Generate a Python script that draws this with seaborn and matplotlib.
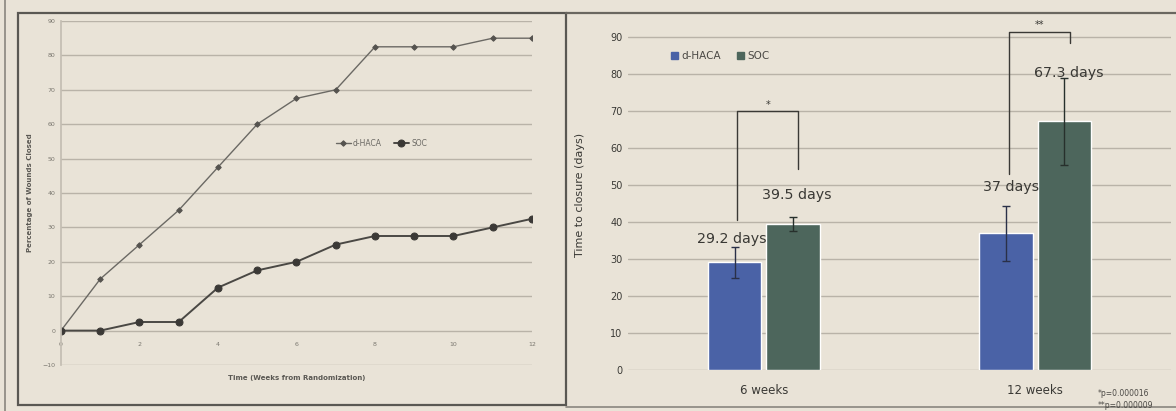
import numpy as np
import pandas as pd
import matplotlib
matplotlib.use("Agg")
import matplotlib.pyplot as plt
from matplotlib.lines import Line2D
from matplotlib.patches import Rectangle
import seaborn as sns

# ---- wound closure over time (left panel) ----
weeks = [0, 1, 2, 3, 4, 5, 6, 7, 8, 9, 10, 11, 12]
pct_dhaca = [0, 15, 25, 35, 47.5, 60, 67.5, 70, 82.5, 82.5, 82.5, 85, 85]
pct_soc = [0, 0, 2.5, 2.5, 12.5, 17.5, 20, 25, 27.5, 27.5, 27.5, 30, 32.5]
left_yticks = [-10, 0, 10, 20, 30, 40, 50, 60, 70, 80, 90]
left_xticks = [0, 2, 4, 6, 8, 10, 12]

# ---- time to closure (right panel) ----
timepoints = ["6 weeks", "12 weeks"]
groups = ["d-HACA", "SOC"]
days_dhaca = [29.2, 37.0]
days_soc = [39.5, 67.3]
sd_dhaca = [4.2, 7.4]
sd_soc = [2.0, 11.8]
value_labels_dhaca = ["29.2 days", "37 days"]
value_labels_soc = ["39.5 days", "67.3 days"]
right_yticks = [0, 10, 20, 30, 40, 50, 60, 70, 80, 90]
sig_marks = ["*", "**"]
footnotes = ["*p=0.000016", "**p=0.000009"]

BG = "#e9e3d7"
GRID = "#b9b3a8"
BLUE = "#4a62a6"
GREEN = "#4d665c"

sns.set_theme(style="white")
plt.rcParams["font.family"] = ["DejaVu Sans"]

fig = plt.figure(figsize=(11.76, 4.11), dpi=100)
fig.patch.set_facecolor(BG)

# panel frames
W, H = 1176, 411
def fx(px): return px / W
def fy(py): return 1 - py / H
fig.add_artist(Rectangle((fx(18), fy(405)), fx(566) - fx(18), fy(13) - fy(405),
                         transform=fig.transFigure, fill=False, ec="#5a5853", lw=1.6))
fig.add_artist(Line2D([fx(5), fx(5)], [fy(0), fy(411)], transform=fig.transFigure,
                      color="#8a867f", lw=1.2))
fig.add_artist(Line2D([fx(566), fx(1176)], [fy(13), fy(13)], transform=fig.transFigure,
                      color="#6a6760", lw=1.6))
fig.add_artist(Line2D([fx(566), fx(1176)], [fy(407), fy(407)], transform=fig.transFigure,
                      color="#8a867f", lw=1.2))

# ---------------- left panel: line chart ----------------
axL = fig.add_axes([fx(61), fy(365), fx(532) - fx(61), fy(21) - fy(365)])
axL.set_facecolor(BG)
dfL = pd.DataFrame({"week": weeks, "d-HACA": pct_dhaca, "SOC": pct_soc})
sns.lineplot(data=dfL, x="week", y="d-HACA", ax=axL, color="#6b6964", lw=1.0,
             marker="D", markersize=2.8, markeredgecolor="#55534f",
             markerfacecolor="#55534f", label="d-HACA")
sns.lineplot(data=dfL, x="week", y="SOC", ax=axL, color="#4a4844", lw=1.4,
             marker="o", markersize=5, markeredgecolor="#3b3936",
             markerfacecolor="#3b3936", label="SOC")
axL.set_xlim(0, 12)
axL.set_ylim(-10, 90)
axL.set_yticks(left_yticks)
axL.set_xticks(left_xticks)
axL.grid(axis="y", color=GRID, lw=1.0)
for s in ["top", "right"]:
    axL.spines[s].set_visible(False)
# horizontal axis crosses at zero
axL.spines["bottom"].set_position(("data", 0))
axL.spines["bottom"].set_visible(False)
axL.spines["left"].set_color("#c4beb3")
axL.tick_params(axis="both", labelsize=4.5, labelcolor="#7a776f", length=0)
axL.tick_params(axis="y", pad=4)
axL.tick_params(axis="x", pad=8)
axL.set_xlabel("Time (Weeks from Randomization)", fontsize=5, color="#5a5853",
               fontweight="bold")
axL.xaxis.set_label_coords(0.5, -0.03)
axL.set_ylabel("Percentage of Wounds Closed", fontsize=5, color="#5a5853",
               fontweight="bold")
axL.yaxis.set_label_coords(-0.059, 0.5)
axL.legend(loc="center", bbox_to_anchor=(0.68, 0.645), ncol=2, frameon=False,
           fontsize=5.5, labelcolor="#6b6964", handlelength=2.0, columnspacing=1.5,
           handletextpad=0.3)

# ---------------- right panel: bar chart ----------------
axR = fig.add_axes([fx(628), fy(370), fx(1171) - fx(628), fy(19) - fy(370)])
axR.set_facecolor(BG)
dfR = pd.DataFrame({
    "timepoint": timepoints * 2,
    "group": [groups[0]] * 2 + [groups[1]] * 2,
    "days": days_dhaca + days_soc,
})
sns.barplot(data=dfR, x="timepoint", y="days", hue="group", order=timepoints,
            hue_order=groups, palette=[BLUE, GREEN], width=0.43, gap=0.08,
            errorbar=None, ax=axR, saturation=1)
axR.set_xlim(-0.5, 1.5)
axR.set_ylim(0, 95)
axR.set_yticks(right_yticks)
axR.grid(axis="y", color=GRID, lw=1.0)
axR.set_axisbelow(True)
for s in ["top", "right", "left", "bottom"]:
    axR.spines[s].set_visible(False)
axR.tick_params(axis="y", labelsize=7, labelcolor="#3a3935", length=0, pad=4)
axR.tick_params(axis="x", labelsize=8.5, labelcolor="#3a3935", length=0, pad=10)
axR.set_xlabel("")
axR.set_ylabel("Time to closure (days)", fontsize=8, color="#3a3935")
axR.yaxis.set_label_coords(-0.08, 0.5)

bars_d = list(axR.containers[0])
bars_s = list(axR.containers[1])
cx_d = [b.get_x() + b.get_width() / 2 for b in bars_d]
cx_s = [b.get_x() + b.get_width() / 2 for b in bars_s]

axR.errorbar(cx_d, days_dhaca, yerr=sd_dhaca, fmt="none", ecolor="#2a3048",
             elinewidth=1.0, capsize=3, capthick=1.0)
axR.errorbar(cx_s, days_soc, yerr=sd_soc, fmt="none", ecolor="#27302c",
             elinewidth=1.0, capsize=3, capthick=1.0)

# value labels above the bars
label_y_dhaca = [35.5, 49.4]
label_y_soc = [47.3, 80.5]
label_dx = [-0.01, 0.02]
for i in range(2):
    axR.text(cx_d[i] + label_dx[i], label_y_dhaca[i], value_labels_dhaca[i],
             ha="center", va="center", fontsize=10.3, color="#3a3935")
    axR.text(cx_s[i] + 0.015, label_y_soc[i], value_labels_soc[i],
             ha="center", va="center", fontsize=10.3, color="#3a3935")

# significance brackets
bracket_top = [70, 91.5]
bracket_left_end = [40.5, 53.0]
bracket_right_end = [54.5, 88.5]
for i in range(2):
    xl, xr = cx_d[i] + 0.01, cx_s[i] + 0.02
    axR.plot([xl, xl, xr, xr],
             [bracket_left_end[i], bracket_top[i], bracket_top[i], bracket_right_end[i]],
             color="#3a3935", lw=1.0, clip_on=False)
    axR.text((xl + xr) / 2, bracket_top[i] + 1.8, sig_marks[i], ha="center",
             va="center", fontsize=7, color="#3a3935", clip_on=False)

handles = [Rectangle((0, 0), 1, 1, color=BLUE), Rectangle((0, 0), 1, 1, color=GREEN)]
axR.legend(handles, groups, loc="center", bbox_to_anchor=(0.17, 0.895), ncol=2,
           frameon=False, fontsize=7.5, labelcolor="#4a4844", handlelength=0.7,
           handleheight=0.7, handletextpad=0.3, columnspacing=1.5)

# p-value footnotes
fig.text(fx(1098), fy(393), footnotes[0], fontsize=5.5, color="#4a4844", va="center")
fig.text(fx(1098), fy(405), footnotes[1], fontsize=5.5, color="#4a4844", va="center")

fig.savefig("out.png", dpi=100, facecolor=BG)
